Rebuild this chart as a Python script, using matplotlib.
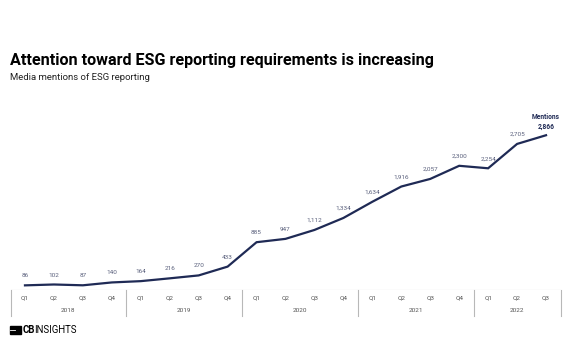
import matplotlib
matplotlib.use("Agg")
import matplotlib.pyplot as plt
from matplotlib.patches import Rectangle

plt.rcParams["font.family"] = ["Roboto", "DejaVu Sans"]

quarters = ["Q1", "Q2", "Q3", "Q4"] * 4 + ["Q1", "Q2", "Q3"]
years = ["2018", "2019", "2020", "2021", "2022"]
year_counts = [4, 4, 4, 4, 3]
mentions = [86, 102, 87, 140, 164, 216, 270, 433, 885, 947, 1112, 1334,
            1634, 1916, 2057, 2300, 2254, 2705, 2866]

LINE = "#1f2a55"
LABEL = "#5a607c"
GRID = "#b8b8b8"

W, H = 572, 364
fig = plt.figure(figsize=(W / 100, H / 100), dpi=100)
fig.patch.set_facecolor("white")


def fx(px):
    return px / W


def fy(py):
    return 1 - py / H


left, right, base, top = 10.5, 560.5, 290, 100
ax = fig.add_axes([fx(left), fy(base), fx(right - left), fy(top) - fy(base)])
n = len(mentions)
xs = list(range(n))
ax.plot(xs, mentions, color=LINE, lw=1.6, solid_joinstyle="miter")
ax.set_xlim(-0.5, n - 0.5)
ax.set_ylim(0, (base - top) / 0.054)
for s in ax.spines.values():
    s.set_visible(False)
ax.set_xticks([])
ax.set_yticks([])
ax.axhline(0, color=GRID, lw=0.8)

for i, v in enumerate(mentions[:-1]):
    ax.annotate(f"{v:,}", (i, v), xytext=(0, 5), textcoords="offset points",
                ha="center", va="bottom", fontsize=4.6, color=LABEL)
ax.annotate(f"Mentions\n{mentions[-1]:,}", (n - 1, mentions[-1]), xytext=(0, 3),
            textcoords="offset points", ha="center", va="bottom",
            fontsize=4.8, color=LINE, fontweight="bold", linespacing=1.4)

# category axis table below the plot
step = (right - left) / n
for i, q in enumerate(quarters):
    fig.text(fx(left + step * (i + 0.5)), fy(298), q, ha="center", va="center",
             fontsize=4.6, color="#555555")
pos = 0
bounds = [0]
for y, c in zip(years, year_counts):
    fig.text(fx(left + step * (pos + c / 2)), fy(311), y, ha="center", va="center",
             fontsize=4.6, color="#555555")
    pos += c
    bounds.append(pos)
for b in bounds:
    xb = left + step * b
    fig.add_artist(plt.Line2D([fx(xb), fx(xb)], [fy(290), fy(316)],
                              color=GRID, lw=0.8))

fig.text(fx(10), fy(60), "Attention toward ESG reporting requirements is increasing",
         fontsize=11.6, fontweight="bold", color="black", va="center", ha="left")
fig.text(fx(10), fy(77), "Media mentions of ESG reporting",
         fontsize=6.8, color="#222222", va="center", ha="left")

# logo
fig.add_artist(Rectangle((fx(10), fy(333.5)), fx(11), fy(325.5) - fy(333.5),
                         color="black", transform=fig.transFigure))
fig.add_artist(plt.Line2D([fx(10), fx(15)], [fy(329.5), fy(329.5)],
                          color="white", lw=0.6))
fig.text(fx(22.5), fy(330), "CB", fontsize=6.9, fontweight="bold", va="center",
         ha="left", color="black")
fig.text(fx(34), fy(330), "INSIGHTS", fontsize=6.9, va="center", ha="left",
         color="black")

fig.savefig("out.png", dpi=100)
